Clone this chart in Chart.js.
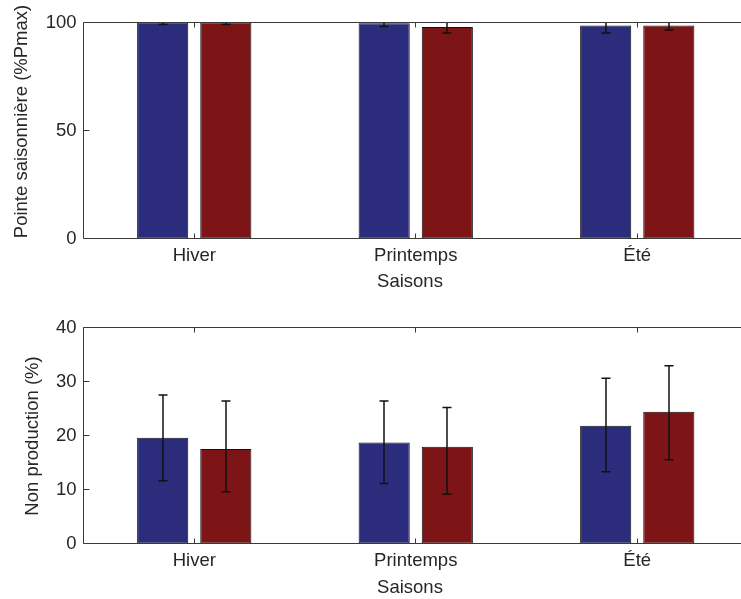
<!DOCTYPE html>
<html><head><meta charset="utf-8">
<script src="https://cdn.jsdelivr.net/npm/chart.js@4.4.0/dist/chart.umd.min.js"></script>
<style>
html,body{margin:0;padding:0;width:741px;height:599px;overflow:hidden;background:#fff;}
canvas{position:absolute;left:0;}
#c1{top:0}
#c2{top:300px}
</style></head><body>
<canvas id="c1" width="770" height="300"></canvas>
<canvas id="c2" width="770" height="299"></canvas>
<script>
// ---- data ----
const categories = ['Hiver', 'Printemps', 'Été'];
const peakBlue = [100, 99.7, 98.6];
const peakBlueErrPlus = [0.9, 1.6, 3.5];
const peakBlueErrMinus = [0.9, 1.6, 3.5];
const peakRed = [100, 97.9, 98.6];
const peakRedErrPlus = [0.9, 2.8, 2.1];
const peakRedErrMinus = [0.9, 2.8, 2.1];
const peakTicks = [0, 50, 100];

const nonProdBlue = [19.6, 18.7, 21.8];
const nonProdBlueErrPlus = [7.9, 7.7, 8.8];
const nonProdBlueErrMinus = [8.0, 7.6, 8.5];
const nonProdRed = [17.5, 17.9, 24.4];
const nonProdRedErrPlus = [8.9, 7.3, 8.5];
const nonProdRedErrMinus = [7.9, 8.8, 8.9];
const nonProdTicks = [0, 10, 20, 30, 40];

// ---- style ----
const BLUE = '#2b2c7c';
const RED = '#7d1517';
const TEXT = '#262626';
const FRAME = '#3a3a3a';
const FONT = { family: '"Liberation Sans", Arial, sans-serif', size: 18.5 };

const frameAndErrors = {
  id: 'frameAndErrors',
  afterDatasetsDraw(chart) {
    const ctx = chart.ctx, ca = chart.chartArea;
    const ys = chart.scales.y, xs = chart.scales.x;
    // error bars
    ctx.save();
    ctx.beginPath();
    ctx.rect(ca.left, ca.top, ca.right - ca.left, ca.bottom - ca.top);
    ctx.clip();
    ctx.strokeStyle = '#111';
    ctx.lineWidth = 1.5;
    chart.data.datasets.forEach((ds, i) => {
      const meta = chart.getDatasetMeta(i);
      meta.data.forEach((bar, j) => {
        const v = ds.data[j];
        const yh = ys.getPixelForValue(v + ds.errPlus[j]);
        const yl = ys.getPixelForValue(v - ds.errMinus[j]);
        const x = Math.round(bar.x);
        ctx.beginPath();
        ctx.moveTo(x, yh); ctx.lineTo(x, yl);
        ctx.moveTo(x - 4.5, yh); ctx.lineTo(x + 4.5, yh);
        ctx.moveTo(x - 4.5, yl); ctx.lineTo(x + 4.5, yl);
        ctx.stroke();
      });
    });
    ctx.restore();
    // frame
    const L = Math.floor(ca.left) + 0.5, R = Math.floor(ca.right) + 0.5;
    const T = Math.floor(ca.top) + 0.5, B = Math.floor(ca.bottom) + 0.5;
    ctx.save();
    ctx.strokeStyle = FRAME;
    ctx.lineWidth = 1;
    ctx.beginPath();
    ctx.rect(L, T, R - L, B - T);
    // y ticks
    ys.ticks.forEach(t => {
      const y = Math.floor(ys.getPixelForValue(t.value)) + 0.5;
      ctx.moveTo(L, y); ctx.lineTo(L + 6, y);
      ctx.moveTo(R, y); ctx.lineTo(R - 6, y);
    });
    // x ticks
    categories.forEach((c, k) => {
      const x = Math.floor(xs.getPixelForValue(k)) + 0.5;
      ctx.moveTo(x, B); ctx.lineTo(x, B - 5);
      ctx.moveTo(x, T); ctx.lineTo(x, T + 5);
    });
    ctx.stroke();
    ctx.restore();
  }
};

const axisTitles = {
  id: 'axisTitles',
  afterDraw(chart, args, opts) {
    const ctx = chart.ctx;
    ctx.save();
    ctx.fillStyle = TEXT;
    ctx.font = FONT.size + 'px ' + FONT.family;
    ctx.textAlign = 'center';
    ctx.textBaseline = 'alphabetic';
    ctx.fillText(opts.xText, opts.xX, opts.xY);
    ctx.translate(opts.yX, opts.yY);
    ctx.rotate(-Math.PI / 2);
    ctx.textBaseline = 'middle';
    ctx.fillText(opts.yText, 0, 0);
    ctx.restore();
  }
};

function makeChart(id, blue, bErrP, bErrM, red, rErrP, rErrM, yMax, yStep, padTop, xHeight, titles) {
  return new Chart(document.getElementById(id), {
    type: 'bar',
    data: {
      labels: categories,
      datasets: [
        { data: blue, errPlus: bErrP, errMinus: bErrM, backgroundColor: BLUE, borderColor: '#111', borderWidth: 1, borderSkipped: false, categoryPercentage: 0.57, barPercentage: 0.81 },
        { data: red, errPlus: rErrP, errMinus: rErrM, backgroundColor: RED, borderColor: '#111', borderWidth: 1, borderSkipped: false, categoryPercentage: 0.57, barPercentage: 0.81 }
      ]
    },
    options: {
      responsive: false,
      animation: false,
      layout: { padding: { left: 0, right: 22, top: padTop, bottom: 0 } },
      plugins: { legend: { display: false }, tooltip: { enabled: false }, axisTitles: titles },
      scales: {
        x: {
          type: 'category', offset: true,
          grid: { display: false, drawTicks: false }, border: { display: false },
          ticks: { font: FONT, color: TEXT, padding: 6, maxRotation: 0 },
          afterFit: s => { s.height = xHeight; }
        },
        y: {
          min: 0, max: yMax,
          grid: { display: false, drawTicks: false }, border: { display: false },
          ticks: { stepSize: yStep, font: FONT, color: TEXT, padding: 7 },
          afterFit: s => { s.width = 83.5; }
        }
      }
    },
    plugins: [frameAndErrors, axisTitles]
  });
}

makeChart('c1', peakBlue, peakBlueErrPlus, peakBlueErrMinus, peakRed, peakRedErrPlus, peakRedErrMinus,
  peakTicks[peakTicks.length - 1], peakTicks[1] - peakTicks[0], 22.5, 61.5,
  { xText: 'Saisons', xX: 410, xY: 287, yText: 'Pointe saisonnière (%Pmax)', yX: 22, yY: 121.5 });

makeChart('c2', nonProdBlue, nonProdBlueErrPlus, nonProdBlueErrMinus, nonProdRed, nonProdRedErrPlus, nonProdRedErrMinus,
  nonProdTicks[nonProdTicks.length - 1], nonProdTicks[1] - nonProdTicks[0], 27.5, 55.5,
  { xText: 'Saisons', xX: 410, xY: 292.5, yText: 'Non production (%)', yX: 33, yY: 136 });
</script>
</body></html>
